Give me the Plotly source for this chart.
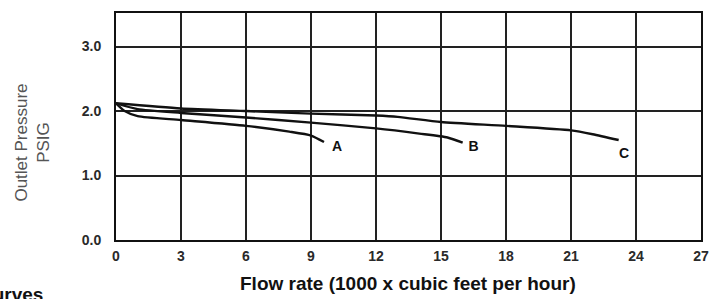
import plotly.graph_objects as go

# Curve data (flow in 1000 cfh, outlet pressure PSIG)
a_x = [0, 0.4, 1, 3, 6, 8, 9, 9.6]
a_y = [2.12, 2.0, 1.92, 1.86, 1.77, 1.68, 1.62, 1.52]
b_x = [0, 1, 3, 6, 9, 12, 14, 15.3, 16.0]
b_y = [2.12, 2.03, 1.97, 1.90, 1.82, 1.73, 1.65, 1.59, 1.51]
c_x = [0, 3, 6, 9, 12, 13, 15, 18, 21, 22, 23.2]
c_y = [2.12, 2.04, 2.0, 1.96, 1.93, 1.91, 1.83, 1.77, 1.70, 1.64, 1.55]

labels = ["A", "B", "C"]
label_x = [10.2, 16.5, 23.45]
label_y = [1.43, 1.43, 1.32]

x_ticks = [0, 3, 6, 9, 12, 15, 18, 21, 24, 27]
y_ticks = [0.0, 1.0, 2.0, 3.0]
y_tick_text = ["0.0", "1.0", "2.0", "3.0"]

fig = go.Figure()
for xs, ys in [(a_x, a_y), (b_x, b_y), (c_x, c_y)]:
    fig.add_trace(go.Scatter(x=xs, y=ys, mode="lines",
                             line=dict(color="#111", width=2.4, shape="spline", smoothing=0.6),
                             showlegend=False, hoverinfo="skip"))

fig.add_trace(go.Scatter(x=label_x, y=label_y, mode="text", text=labels,
                         textfont=dict(family="Arial", size=14, color="#111", weight="bold"),
                         showlegend=False, hoverinfo="skip"))

tick_font = dict(family="Arial", size=14, color="#2a2a2a", weight="bold")

fig.update_layout(
    width=720, height=299,
    margin=dict(l=116, r=14, t=11, b=59),
    paper_bgcolor="white", plot_bgcolor="white",
    xaxis=dict(range=[0, 27], tickvals=x_ticks, ticktext=[str(v) for v in x_ticks],
               showgrid=True, gridcolor="#222", gridwidth=1.5,
               showline=True, linecolor="#111", linewidth=2, mirror=True,
               zeroline=False, ticks="", ticklabelstandoff=2,
               tickfont=tick_font),
    yaxis=dict(range=[0, 3.52], tickvals=y_ticks, ticktext=y_tick_text,
               showgrid=True, gridcolor="#222", gridwidth=1.5,
               showline=True, linecolor="#111", linewidth=2, mirror=True,
               zeroline=False, ticks="", ticklabelstandoff=10,
               tickfont=tick_font),
    annotations=[
        dict(text="Outlet Pressure<br>PSIG", xref="paper", yref="paper",
             x=(32 - 116) / 590, y=(240 - 142) / 229, xanchor="center", yanchor="middle",
             textangle=-90, showarrow=False,
             font=dict(family="Arial", size=17, color="#555")),
        dict(text="<b>Flow rate (1000 x cubic feet per hour)</b>", xref="paper", yref="paper",
             x=(410 - 116) / 590, y=(240 - 284) / 229, xanchor="center", yanchor="middle",
             showarrow=False,
             font=dict(family="Liberation Sans", size=19, color="#111")),
        dict(text="<b>Curves</b>", xref="paper", yref="paper",
             x=(44 - 116) / 590, y=(240 - 295) / 229, xanchor="right", yanchor="middle",
             showarrow=False,
             font=dict(family="Liberation Sans", size=19, color="#111")),
    ],
)

fig.write_html("out.html", config={"displayModeBar": False},
               post_script="document.body.style.margin='0';document.body.style.overflow='hidden';")
